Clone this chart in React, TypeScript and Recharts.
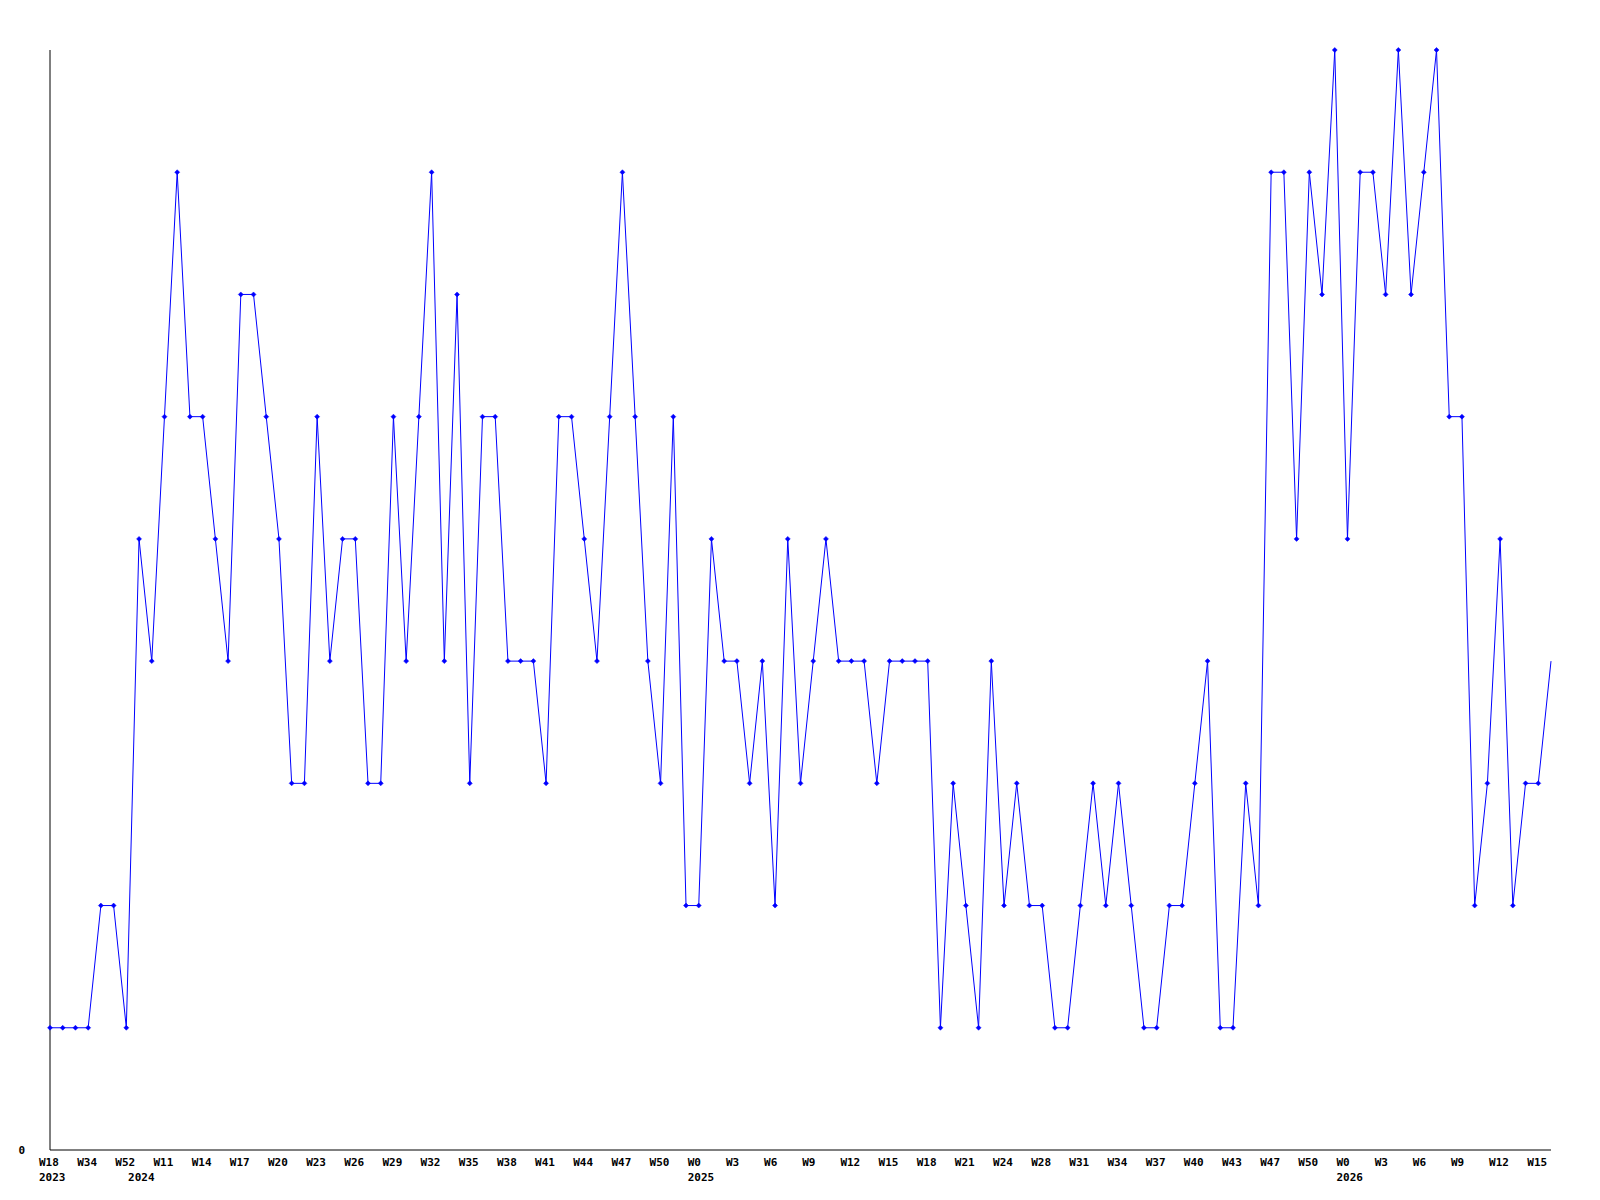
import React from 'react';
import { LineChart, Line, XAxis, YAxis } from 'recharts';

const weekLabels: string[] = [
  'W18', 'W22', 'W29', 'W34', 'W40', 'W47', 'W52', 'W2', 'W7',
  'W11', 'W12', 'W13', 'W14', 'W15', 'W16', 'W17', 'W18', 'W19', 'W20', 'W21', 'W22',
  'W23', 'W24', 'W25', 'W26', 'W27', 'W28', 'W29', 'W30', 'W31', 'W32', 'W33', 'W34',
  'W35', 'W36', 'W37', 'W38', 'W39', 'W40', 'W41', 'W42', 'W43', 'W44', 'W45', 'W46',
  'W47', 'W48', 'W49', 'W50', 'W51', 'W52',
  'W0', 'W1', 'W2', 'W3', 'W4', 'W5', 'W6', 'W7', 'W8', 'W9', 'W10', 'W11', 'W12',
  'W13', 'W14', 'W15', 'W16', 'W17', 'W18', 'W19', 'W20', 'W21', 'W22', 'W23', 'W24',
  'W26', 'W27', 'W28', 'W29', 'W30', 'W31', 'W32', 'W33', 'W34', 'W35', 'W36', 'W37',
  'W38', 'W39', 'W40', 'W41', 'W42', 'W43', 'W44', 'W46', 'W47', 'W48', 'W49', 'W50',
  'W51', 'W52',
  'W0', 'W1', 'W2', 'W3', 'W4', 'W5', 'W6', 'W7', 'W8', 'W9', 'W10', 'W11', 'W12',
  'W13', 'W14', 'W15', 'W16',
];

const values: number[] = [
  1, 1, 1, 1, 2, 2, 1, 5, 4, 6,
  8, 6, 6, 5, 4, 7, 7, 6, 5, 3,
  3, 6, 4, 5, 5, 3, 3, 6, 4, 6,
  8, 4, 7, 3, 6, 6, 4, 4, 4, 3,
  6, 6, 5, 4, 6, 8, 6, 4, 3, 6,
  2, 2, 5, 4, 4, 3, 4, 2, 5, 3,
  4, 5, 4, 4, 4, 3, 4, 4, 4, 4,
  1, 3, 2, 1, 4, 2, 3, 2, 2, 1,
  1, 2, 3, 2, 3, 2, 1, 1, 2, 2,
  3, 4, 1, 1, 3, 2, 8, 8, 5, 8,
  7, 9, 5, 8, 8, 7, 9, 7, 8, 9,
  6, 6, 2, 3, 5, 2, 3, 3, 4,
];

const yearLabels: string[] = ['2023', '2024', '2025', '2026'];
const yearIndex: number[] = [0, 7, 51, 102];

const data = values.map((v, i) => ({ idx: i, week: weekLabels[i], value: v }));

const tickIdx: number[] = Array.from(
  new Set([...values.map((_, i) => i).filter((i) => i % 3 === 0), ...yearIndex])
).sort((a, b) => a - b);

const FONT = '"DejaVu Sans Mono", monospace';

const XTick = (props: any) => {
  const { x, y, payload } = props;
  const i = payload.value as number;
  const yi = yearIndex.indexOf(i);
  return (
    <g>
      {i % 3 === 0 && (
        <text x={x - 11} y={y + 16} fontFamily={FONT} fontSize={11} fontWeight="bold" fill="#000" textAnchor="start">
          {weekLabels[i]}
        </text>
      )}
      {yi >= 0 && (
        <text x={x - 11} y={y + 31} fontFamily={FONT} fontSize={11} fontWeight="bold" fill="#000" textAnchor="start">
          {yearLabels[yi]}
        </text>
      )}
    </g>
  );
};

const YTick = (props: any) => {
  const { x, y, payload } = props;
  return (
    <text x={x} y={y + 4} fontFamily={FONT} fontSize={11} fontWeight="bold" fill="#000" textAnchor="end">
      {payload.value}
    </text>
  );
};

const Dot = (props: any) => {
  const { cx, cy, index } = props;
  if (index === values.length - 1 || cx == null || cy == null) return <g key={`d${index}`} />;
  const r = 2.5;
  return (
    <polygon
      key={`d${index}`}
      points={`${cx},${cy - r} ${cx + r},${cy} ${cx},${cy + r} ${cx - r},${cy}`}
      fill="#0000ff"
      stroke="#0000ff"
      strokeWidth={0.5}
    />
  );
};

export default function App() {
  return (
    <div style={{ width: 1592, height: 1192, background: '#fff' }}>
      <LineChart width={1592} height={1192} data={data} margin={{ top: 42, right: 49, bottom: 10, left: 12 }}>
        <XAxis
          dataKey="idx"
          type="number"
          domain={[0, values.length - 1]}
          ticks={tickIdx}
          interval={0}
          tick={<XTick />}
          tickLine={false}
          tickSize={0}
          tickMargin={0}
          height={40}
          axisLine={{ stroke: '#000', strokeWidth: 1 }}
          allowDecimals={false}
        />
        <YAxis
          type="number"
          domain={[0, 9]}
          ticks={[0]}
          width={30}
          tick={<YTick />}
          tickLine={false}
          tickSize={0}
          tickMargin={25}
          axisLine={{ stroke: '#000', strokeWidth: 1 }}
        />
        <Line
          type="linear"
          dataKey="value"
          stroke="#0000ff"
          strokeWidth={1}
          dot={Dot}
          activeDot={false}
          isAnimationActive={false}
        />
      </LineChart>
    </div>
  );
}
